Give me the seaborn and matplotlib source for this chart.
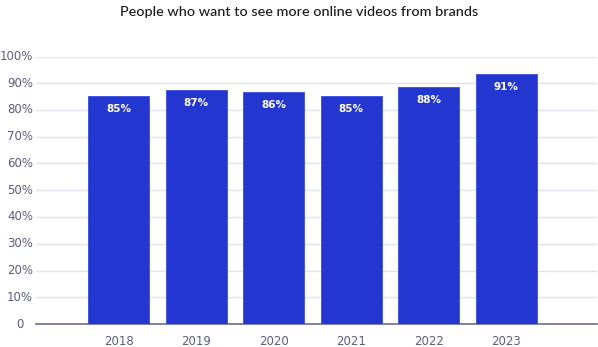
import matplotlib
matplotlib.use("Agg")
import matplotlib.pyplot as plt
import matplotlib.transforms as mtransforms
import seaborn as sns
import pandas as pd

years = ["2018", "2019", "2020", "2021", "2022", "2023"]
heights = [85.3, 87.6, 86.8, 85.3, 88.6, 93.6]
labels = ["85%", "87%", "86%", "85%", "88%", "91%"]
yticks = [0, 10, 20, 30, 40, 50, 60, 70, 80, 90, 100]
yticklabels = ["0", "10%", "20%", "30%", "40%", "50%", "60%", "70%", "80%", "90%", "100%"]

sns.set_style("white")
plt.rcParams['font.family'] = ['DejaVu Sans']

df = pd.DataFrame({"year": years, "value": heights})

fig = plt.figure(figsize=(5.98, 3.47), dpi=100)
ax = fig.add_axes([36/598, 1-324/347, (597-36)/598, (324-56.5)/347])

sns.barplot(data=df, x="year", y="value", color="#2337d0", saturation=1,
            width=0.787, ax=ax, zorder=3)

for p, lab in zip(ax.patches, labels):
    p.set_edgecolor("#3a4ce0")
    p.set_linewidth(0.6)
    ax.annotate(lab, (p.get_x() + p.get_width()/2, p.get_height()),
                xytext=(0, -9.4), textcoords="offset points",
                ha="center", va="center", color="white",
                fontsize=7.5, fontweight="bold", zorder=4)

ax.set_xlim(-1.067, 6.17)
ax.set_ylim(0, 100)
ax.set_yticks(yticks)
ax.set_yticklabels([])
ax.yaxis.grid(True, color="#e2e2ec", linewidth=1, zorder=0)
ax.set_axisbelow(True)
for s in ["top", "right", "left"]:
    ax.spines[s].set_visible(False)
ax.spines["bottom"].set_color("#6b6b9a")
ax.spines["bottom"].set_linewidth(1.2)
ax.tick_params(axis="both", length=0, labelsize=8.5, colors="#5c5c7e")
ax.tick_params(axis="x", pad=8)
ax.set_xlabel("")
ax.set_ylabel("")

trans = mtransforms.blended_transform_factory(ax.transAxes, ax.transData)
for v, t in zip(yticks, yticklabels):
    off = -3/100 if t != "0" else -12/100
    tr = trans + mtransforms.ScaledTranslation(off, 0, fig.dpi_scale_trans)
    ax.text(0, v, t, transform=tr, ha="right", va="center",
            fontsize=8.5, color="#5c5c7e")

fig.text(0.5, 1-12/347, "People who want to see more online videos from brands",
         ha="center", va="center", fontsize=10.4, color="#1a1a1a",
         family=["Lato", "DejaVu Sans"], fontweight="medium")

fig.savefig("out.png", dpi=100)
